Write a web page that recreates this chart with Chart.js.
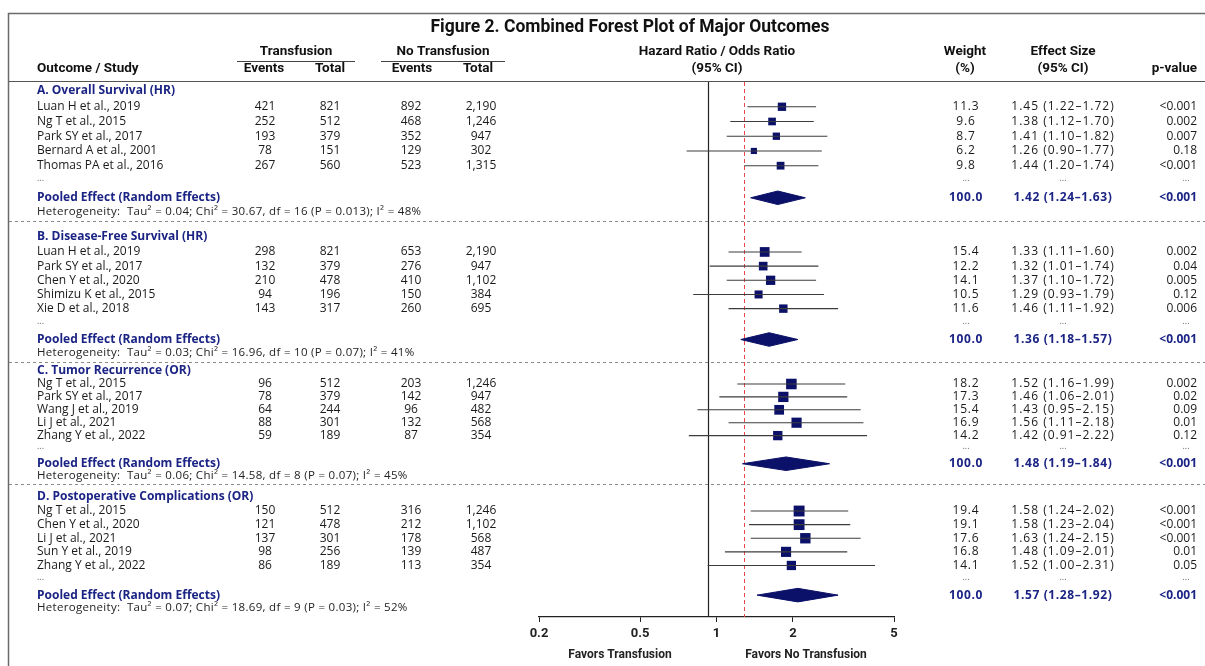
<!DOCTYPE html>
<html>
<head>
<meta charset="utf-8">
<script src="https://cdn.jsdelivr.net/npm/chart.js@4.4.1/dist/chart.umd.min.js"></script>
<style>
  html, body { margin: 0; padding: 0; background: #fff; }
  canvas { display: block; }
</style>
</head>
<body>
<canvas id="forest" width="1205" height="666"></canvas>
<script>
// --- Data ---
const sectionTitles = [
  "A. Overall Survival (HR)",
  "B. Disease-Free Survival (HR)",
  "C. Tumor Recurrence (OR)",
  "D. Postoperative Complications (OR)",
];
const studyNames = [
  "Luan H et al., 2019", "Ng T et al., 2015", "Park SY et al., 2017", "Bernard A et al., 2001", "Thomas PA et al., 2016",
  "Luan H et al., 2019", "Park SY et al., 2017", "Chen Y et al., 2020", "Shimizu K et al., 2015", "Xie D et al., 2018",
  "Ng T et al., 2015", "Park SY et al., 2017", "Wang J et al., 2019", "Li J et al., 2021", "Zhang Y et al., 2022",
  "Ng T et al., 2015", "Chen Y et al., 2020", "Li J et al., 2021", "Sun Y et al., 2019", "Zhang Y et al., 2022",
];
const eventsTx = [421, 252, 193, 78, 267, 298, 132, 210, 94, 143, 96, 78, 64, 88, 59, 150, 121, 137, 98, 86];
const totalTx = [821, 512, 379, 151, 560, 821, 379, 478, 196, 317, 512, 379, 244, 301, 189, 512, 478, 301, 256, 189];
const eventsNoTx = [892, 468, 352, 129, 523, 653, 276, 410, 150, 260, 203, 142, 96, 132, 87, 316, 212, 178, 139, 113];
const totalNoTx = [2190, 1246, 947, 302, 1315, 2190, 947, 1102, 384, 695, 1246, 947, 482, 568, 354, 1246, 1102, 568, 487, 354];
const weights = [11.3, 9.6, 8.7, 6.2, 9.8, 15.4, 12.2, 14.1, 10.5, 11.6, 18.2, 17.3, 15.4, 16.9, 14.2, 19.4, 19.1, 17.6, 16.8, 14.1];
const effect = [1.45, 1.38, 1.41, 1.26, 1.44, 1.33, 1.32, 1.37, 1.29, 1.46, 1.52, 1.46, 1.43, 1.56, 1.42, 1.58, 1.58, 1.63, 1.48, 1.52];
const ciLow = [1.22, 1.12, 1.10, 0.90, 1.20, 1.11, 1.01, 1.10, 0.93, 1.11, 1.16, 1.06, 0.95, 1.11, 0.91, 1.24, 1.23, 1.24, 1.09, 1.00];
const ciHigh = [1.72, 1.70, 1.82, 1.77, 1.74, 1.60, 1.74, 1.72, 1.79, 1.92, 1.99, 2.01, 2.15, 2.18, 2.22, 2.02, 2.04, 2.15, 2.01, 2.31];
const pValues = ["<0.001", "0.002", "0.007", "0.18", "<0.001", "0.002", "0.04", "0.005", "0.12", "0.006",
  "0.002", "0.02", "0.09", "0.01", "0.12", "<0.001", "<0.001", "<0.001", "0.01", "0.05"];
const pooledEffect = [1.42, 1.36, 1.48, 1.57];
const pooledLow = [1.24, 1.18, 1.19, 1.28];
const pooledHigh = [1.63, 1.57, 1.84, 1.92];
const pooledP = ["<0.001", "<0.001", "<0.001", "<0.001"];
const heterogeneity = [
  "Heterogeneity:  Tau² = 0.04; Chi² = 30.67, df = 16 (P = 0.013); I² = 48%",
  "Heterogeneity:  Tau² = 0.03; Chi² = 16.96, df = 10 (P = 0.07); I² = 41%",
  "Heterogeneity:  Tau² = 0.06; Chi² = 14.58, df = 8 (P = 0.07); I² = 45%",
  "Heterogeneity:  Tau² = 0.07; Chi² = 18.69, df = 9 (P = 0.03); I² = 52%",
];
const axisTicks = [0.2, 0.5, 1, 2, 5];
const refLine = 1.2;

// --- Layout (row units on the y scale) ---
const sectionStart = [0, 10.125, 19.39, 28.16];
const sectionScale = [1.023, 0.984, 0.896, 0.945];
const perSection = 5;
const rowY = (s, off) => sectionStart[s] + off * sectionScale[s];
const studyY = (i) => rowY(Math.floor(i / perSection), 1.07 + (i % perSection));
const DOTS = 6.1, POOLED = 7.25, HET = 8.2, SEP = 8.85;

const NAVY = "#1b2484";
const MARK = "#0b1068";
const BODY = "Open Sans";

// --- Datasets ---
const ciSets = effect.map((_, i) => ({
  type: "line",
  data: [{ x: ciLow[i], y: studyY(i) }, { x: ciHigh[i], y: studyY(i) }],
  borderColor: "#3c3c3c",
  borderWidth: 1.1,
  pointRadius: 0,
}));
const markerSet = {
  type: "scatter",
  data: effect.map((v, i) => ({ x: v, y: studyY(i) })),
  pointStyle: "rect",
  pointRadius: weights.map((w) => 1.75 * Math.sqrt(w)),
  backgroundColor: MARK,
  borderColor: MARK,
  borderWidth: 0,
};
const diamondH = 0.47;
const diamondSets = pooledEffect.map((v, s) => {
  const y = rowY(s, POOLED);
  return {
    type: "line",
    data: [
      { x: pooledLow[s], y },
      { x: v, y: y - diamondH },
      { x: pooledHigh[s], y },
      { x: v, y: y + diamondH },
      { x: pooledLow[s], y },
    ],
    borderColor: MARK,
    backgroundColor: MARK,
    borderWidth: 1,
    pointRadius: 0,
    tension: 0,
    fill: "shape",
  };
});

// --- Text, rules and reference lines ---
function put(ctx, s, x, y, font, color, align, spacing) {
  ctx.font = font;
  ctx.fillStyle = color;
  ctx.textAlign = align || "left";
  ctx.textBaseline = "middle";
  ctx.letterSpacing = (spacing || 0) + "px";
  ctx.fillText(s, x, y);
  ctx.letterSpacing = "0px";
}
const fmt = (n) => n.toLocaleString("en-US");
const ci = (e, l, h) => e.toFixed(2) + " (" + l.toFixed(2) + "\u2013" + h.toFixed(2) + ")";

const refLines = {
  id: "refLines",
  beforeDatasetsDraw(chart) {
    const { ctx, chartArea, scales } = chart;
    const x1 = Math.round(scales.x.getPixelForValue(1)) + 0.5;
    const xr = Math.round(scales.x.getPixelForValue(refLine)) + 0.5;
    ctx.save();
    ctx.strokeStyle = "#222";
    ctx.lineWidth = 1.2;
    ctx.beginPath();
    ctx.moveTo(x1, chartArea.top);
    ctx.lineTo(x1, chartArea.bottom);
    ctx.stroke();
    ctx.strokeStyle = "#e8464c";
    ctx.lineWidth = 1;
    ctx.setLineDash([4, 3]);
    ctx.beginPath();
    ctx.moveTo(xr, chartArea.top);
    ctx.lineTo(xr, chartArea.bottom);
    ctx.stroke();
    ctx.restore();
  },
};

const tableText = {
  id: "tableText",
  afterDraw(chart) {
    const { ctx, scales } = chart;
    const yp = (v) => scales.y.getPixelForValue(v);
    const W = chart.width;
    ctx.save();
    // frame
    ctx.strokeStyle = "#6a6a6a";
    ctx.lineWidth = 1.5;
    ctx.beginPath();
    ctx.moveTo(8.5, chart.height);
    ctx.lineTo(8.5, 13.5);
    ctx.lineTo(W, 13.5);
    ctx.stroke();
    // header rule
    ctx.strokeStyle = "#555";
    ctx.lineWidth = 1.2;
    ctx.beginPath();
    ctx.moveTo(9, 81.5);
    ctx.lineTo(W, 81.5);
    ctx.stroke();
    // group underlines
    ctx.strokeStyle = "#444";
    ctx.lineWidth = 1;
    ctx.beginPath();
    ctx.moveTo(237, 61.5); ctx.lineTo(355, 61.5);
    ctx.moveTo(381, 61.5); ctx.lineTo(505, 61.5);
    ctx.stroke();

    put(ctx, "Figure 2. Combined Forest Plot of Major Outcomes", 630, 28, "bold 17.5px Roboto", "#111", "center");
    const hf = "bold 13.5px Roboto", hc = "#111";
    put(ctx, "Outcome / Study", 37, 69, hf, hc);
    put(ctx, "Transfusion", 296, 52, hf, hc, "center");
    put(ctx, "No Transfusion", 443, 52, hf, hc, "center");
    put(ctx, "Events", 264, 69, hf, hc, "center");
    put(ctx, "Total", 330, 69, hf, hc, "center");
    put(ctx, "Events", 412, 69, hf, hc, "center");
    put(ctx, "Total", 478, 69, hf, hc, "center");
    put(ctx, "Hazard Ratio / Odds Ratio", 717, 52, hf, hc, "center");
    put(ctx, "(95% CI)", 717, 69, hf, hc, "center");
    put(ctx, "Weight", 965, 52, hf, hc, "center");
    put(ctx, "(%)", 965, 69, hf, hc, "center");
    put(ctx, "Effect Size", 1063, 52, hf, hc, "center");
    put(ctx, "(95% CI)", 1063, 69, hf, hc, "center");
    put(ctx, "p-value", 1197, 69, hf, hc, "right");

    const bf = "12px " + BODY, bc = "#1a1a1a";
    const nb = "bold 12px " + BODY;
    const df = "9px " + BODY, dc = "#666";
    sectionTitles.forEach((t, s) => {
      put(ctx, t, 37, yp(rowY(s, 0)), nb, NAVY);
      const yd = yp(rowY(s, DOTS)) - 2;
      put(ctx, "...", 37, yd, df, dc);
      put(ctx, "...", 966, yd, df, dc, "center");
      put(ctx, "...", 1063, yd, df, dc, "center");
      put(ctx, "...", 1186, yd, df, dc, "center");
      const ypool = yp(rowY(s, POOLED));
      put(ctx, "Pooled Effect (Random Effects)", 37, ypool, nb, NAVY);
      put(ctx, "100.0", 966, ypool, nb, NAVY, "center", 0.6);
      put(ctx, ci(pooledEffect[s], pooledLow[s], pooledHigh[s]), 1063, ypool, nb, NAVY, "center", 0.6);
      put(ctx, pooledP[s], 1197, ypool, nb, NAVY, "right");
      put(ctx, heterogeneity[s], 37, yp(rowY(s, HET)), "11.5px " + BODY, "#222", "left", 0.3);
      if (s < sectionTitles.length - 1) {
        const ys = Math.round(yp(rowY(s, SEP))) + 0.5;
        ctx.strokeStyle = "#8a8a8a";
        ctx.lineWidth = 1;
        ctx.setLineDash([3, 3]);
        ctx.beginPath();
        ctx.moveTo(9, ys);
        ctx.lineTo(W, ys);
        ctx.stroke();
        ctx.setLineDash([]);
      }
    });
    studyNames.forEach((n, i) => {
      const y = yp(studyY(i));
      put(ctx, n, 37, y, bf, bc);
      put(ctx, fmt(eventsTx[i]), 265, y, bf, bc, "center");
      put(ctx, fmt(totalTx[i]), 330, y, bf, bc, "center");
      put(ctx, fmt(eventsNoTx[i]), 411, y, bf, bc, "center");
      put(ctx, fmt(totalNoTx[i]), 481, y, bf, bc, "center");
      put(ctx, weights[i].toFixed(1), 966, y, bf, bc, "center", 0.8);
      put(ctx, ci(effect[i], ciLow[i], ciHigh[i]), 1063, y, bf, bc, "center", 1);
      put(ctx, pValues[i], 1197, y, bf, bc, "right");
    });
    // favours labels
    const ff = "bold 12px Roboto";
    put(ctx, "Favors Transfusion", 620, 655, ff, "#222", "center");
    put(ctx, "Favors No Transfusion", 806, 655, ff, "#222", "center");
    ctx.restore();
  },
};

// --- Chart ---
new Chart(document.getElementById("forest"), {
  data: { datasets: [...ciSets, ...diamondSets, markerSet] },
  options: {
    responsive: false,
    devicePixelRatio: 1,
    animation: false,
    layout: { padding: { left: 539, right: 311, top: 82, bottom: 19 } },
    plugins: { legend: { display: false }, tooltip: { enabled: false } },
    scales: {
      x: { type: "logarithmic", min: 0.43, max: 2.54, display: false },
      xt: {
        type: "logarithmic",
        position: "bottom",
        min: 0.2,
        max: 5,
        afterBuildTicks: (s) => { s.ticks = axisTicks.map((v) => ({ value: v })); },
        afterFit: (s) => { s.height = 30; },
        ticks: {
          callback: (v) => String(v),
          autoSkip: false,
          maxRotation: 0,
          padding: 4,
          color: "#222",
          font: { family: "Roboto", size: 13, weight: "bold" },
        },
        grid: { drawOnChartArea: false, drawTicks: true, tickLength: 5, color: "#222" },
        border: { display: true, color: "#222", width: 1.3 },
      },
      y: { type: "linear", reverse: true, min: -0.625, max: 36.53, display: false },
    },
  },
  plugins: [refLines, tableText],
});
</script>
</body>
</html>
